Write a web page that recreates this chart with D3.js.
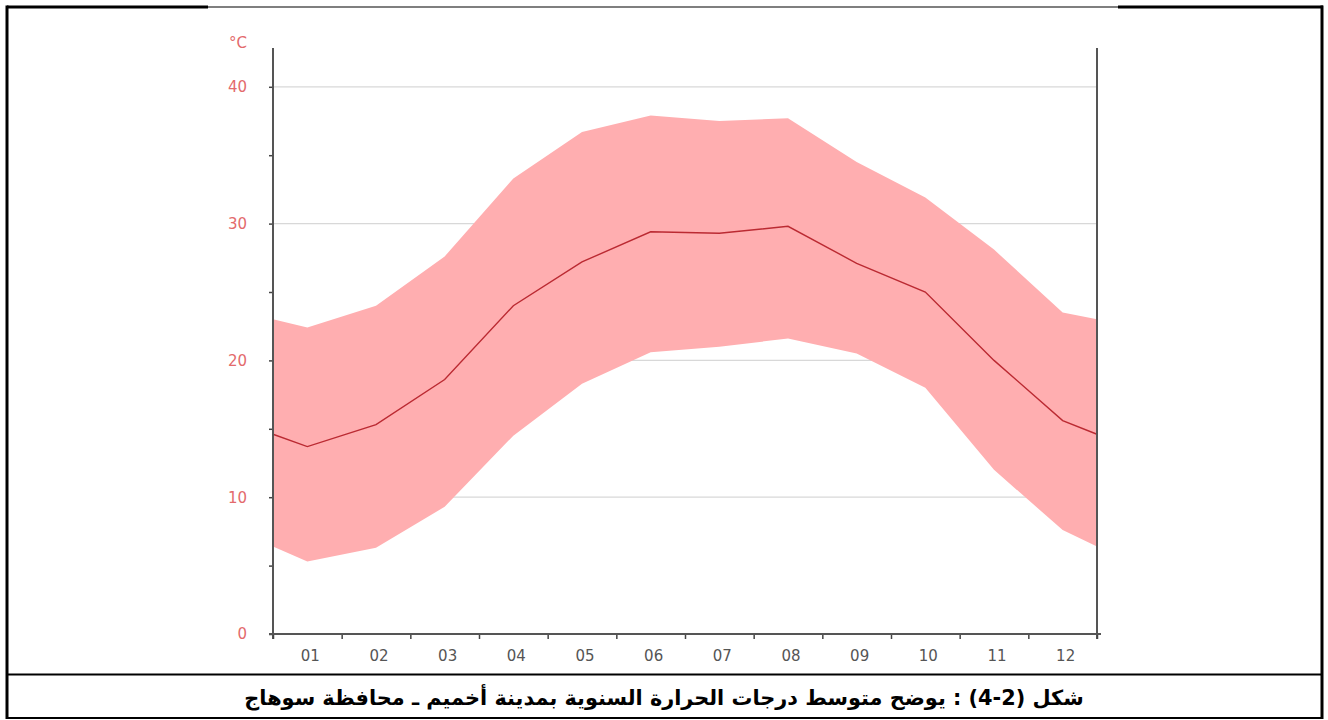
<!DOCTYPE html>
<html>
<head>
<meta charset="utf-8">
<script src="https://cdn.jsdelivr.net/npm/d3@7"></script>
<style>
  html, body { margin: 0; padding: 0; background: #fff; }
  svg { display: block; }
</style>
</head>
<body>
<svg id="chart" width="1328" height="720"></svg>
<script>
// ---- data ----
const months = ["01","02","03","04","05","06","07","08","09","10","11","12"];
const highTemps = [22.4, 24.0, 27.6, 33.3, 36.7, 37.9, 37.5, 37.7, 34.5, 31.9, 28.1, 23.5];
const meanTemps = [13.7, 15.3, 18.6, 24.0, 27.2, 29.4, 29.3, 29.8, 27.1, 25.0, 20.0, 15.6];
const lowTemps  = [5.3, 6.3, 9.3, 14.5, 18.3, 20.6, 21.0, 21.6, 20.5, 18.0, 12.0, 7.6];
// values where the band meets the left / right axis (year wrap)
const edgeHigh = 23.0, edgeMean = 14.6, edgeLow = 6.4;
const yMajorTicks = [0, 10, 20, 30, 40];
const yMinorTicks = [5, 15, 25, 35];
const unitLabel = "°C";
const caption = "شكل (2-4) : يوضح متوسط درجات الحرارة السنوية بمدينة أخميم ـ محافظة سوهاج";

// ---- layout ----
const svg = d3.select("#chart");
const L = 273, R = 1097, T = 48, B = 634;

const x = d3.scaleLinear().domain([0.5, 12.5]).range([L, R]);
const y = d3.scaleLinear().domain([0, 40]).range([B, B - 40 * 13.68]);

const pts = [{m: 0.5, hi: edgeHigh, me: edgeMean, lo: edgeLow}]
  .concat(months.map((d, i) => ({m: i + 1, hi: highTemps[i], me: meanTemps[i], lo: lowTemps[i]})))
  .concat([{m: 12.5, hi: edgeHigh, me: edgeMean, lo: edgeLow}]);

// outer frame
const frame = svg.append("g");
frame.append("line").attr("x1", 7).attr("x2", 208).attr("y1", 7).attr("y2", 7).attr("stroke", "#000").attr("stroke-width", 3);
frame.append("line").attr("x1", 208).attr("x2", 1118).attr("y1", 7).attr("y2", 7).attr("stroke", "#000").attr("stroke-width", 1.2);
frame.append("line").attr("x1", 1118).attr("x2", 1323).attr("y1", 7).attr("y2", 7).attr("stroke", "#000").attr("stroke-width", 3);
frame.append("line").attr("x1", 7).attr("x2", 7).attr("y1", 5.5).attr("y2", 719).attr("stroke", "#000").attr("stroke-width", 3);
frame.append("line").attr("x1", 1322).attr("x2", 1322).attr("y1", 5.5).attr("y2", 719).attr("stroke", "#000").attr("stroke-width", 3);
frame.append("line").attr("x1", 6).attr("x2", 1323).attr("y1", 674.5).attr("y2", 674.5).attr("stroke", "#000").attr("stroke-width", 2);
frame.append("line").attr("x1", 6).attr("x2", 1323).attr("y1", 718).attr("y2", 718).attr("stroke", "#000").attr("stroke-width", 2);

// grid lines
svg.append("g").selectAll("line").data(yMajorTicks.filter(v => v > 0)).join("line")
  .attr("x1", L).attr("x2", R)
  .attr("y1", d => y(d)).attr("y2", d => y(d))
  .attr("stroke", "#d8d8d8").attr("stroke-width", 1.2);

// band
const area = d3.area().x(d => x(d.m)).y0(d => y(d.lo)).y1(d => y(d.hi));
svg.append("path").datum(pts).attr("d", area).attr("fill", "#ffaeb0");

// mean line
const line = d3.line().x(d => x(d.m)).y(d => y(d.me));
svg.append("path").datum(pts).attr("d", line)
  .attr("fill", "none").attr("stroke", "#bb2a32").attr("stroke-width", 1.4);

// y axis (left)
const yAxis = d3.axisLeft(y).tickValues(yMajorTicks).tickSize(4).tickPadding(22).tickFormat(d3.format("d"));
const gy = svg.append("g").attr("transform", `translate(${L},0)`).call(yAxis);
gy.select(".domain").remove();
gy.selectAll(".tick line").attr("stroke", "#444").attr("stroke-width", 1.5);
gy.selectAll(".tick text").attr("fill", "#e36a6c").style("font-family", "DejaVu Sans").style("font-size", "15px");
const yMinor = d3.axisLeft(y).tickValues(yMinorTicks).tickSize(4).tickFormat("");
const gym = svg.append("g").attr("transform", `translate(${L},0)`).call(yMinor);
gym.select(".domain").remove();
gym.selectAll(".tick line").attr("stroke", "#444").attr("stroke-width", 1.5);

svg.append("line").attr("x1", L).attr("x2", L).attr("y1", T).attr("y2", B + 5)
  .attr("stroke", "#555").attr("stroke-width", 2);
svg.append("line").attr("x1", R).attr("x2", R).attr("y1", T).attr("y2", B + 5)
  .attr("stroke", "#555").attr("stroke-width", 2);

svg.append("text").attr("x", 247).attr("y", 48).attr("text-anchor", "end")
  .attr("fill", "#e36a6c").style("font-family", "DejaVu Sans").style("font-size", "15px")
  .text(unitLabel);

// x axis
const xTicks = d3.range(0, 13).map(i => i + 0.5);
const xAxis = d3.axisBottom(x).tickValues(xTicks).tickSize(5).tickFormat("");
const gx = svg.append("g").attr("transform", `translate(0,${B})`).call(xAxis);
gx.select(".domain").remove();
gx.selectAll(".tick line").attr("stroke", "#444").attr("stroke-width", 1.5);
svg.append("line").attr("x1", L - 4).attr("x2", R + 4).attr("y1", B).attr("y2", B)
  .attr("stroke", "#555").attr("stroke-width", 2);

const xLab = d3.scaleBand().domain(months).range([L, R]);
svg.append("g").selectAll("text").data(months).join("text")
  .attr("x", d => xLab(d) + xLab.bandwidth() / 2 + 3)
  .attr("y", 661)
  .attr("text-anchor", "middle")
  .attr("fill", "#555")
  .style("font-family", "DejaVu Sans").style("font-size", "15px")
  .text(d => d);

// caption
const cap = svg.append("text").attr("x", 664).attr("y", 705)
  .attr("text-anchor", "middle").attr("direction", "rtl")
  .attr("fill", "#000")
  .style("font-family", "'DejaVu Sans', 'Noto Sans', sans-serif")
  .style("font-weight", "bold").style("font-size", "22px")
  .text(caption);
const w = cap.node().getBBox().width;
if (w > 0) cap.style("font-size", (22 * 840 / w).toFixed(2) + "px");
</script>
</body>
</html>
